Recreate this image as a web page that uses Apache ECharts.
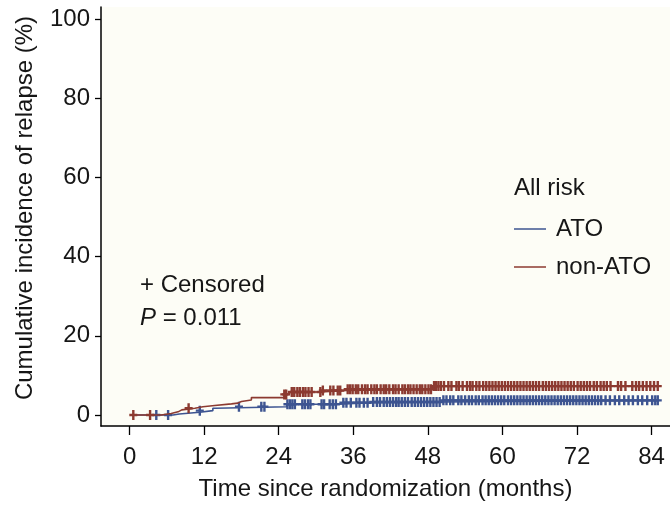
<!DOCTYPE html>
<html>
<head>
<meta charset="utf-8">
<script src="https://cdn.jsdelivr.net/npm/echarts@6/dist/echarts.min.js"></script>
<style>
html,body{margin:0;padding:0;background:#ffffff;}
#chart{width:670px;height:508px;}
</style>
</head>
<body>
<div id="chart"></div>
<script>
// ---- data ----
var xTicks = [0, 12, 24, 36, 48, 60, 72, 84];
var yTicks = [0, 20, 40, 60, 80, 100];
var seriesNames = ['ATO', 'non-ATO'];

// step points [month, cumulative incidence %]
var atoSteps = [[0.3,0],[7.0,0.25],[8.0,0.45],[9.4,0.7],[11.3,1.1],[13.4,1.7],[13.8,2.1],[25.3,2.7],[33.8,3.1],[38.6,3.3],[50.4,3.7],[85.0,3.7]];
var nonAtoSteps = [[0.3,0],[5.1,0.4],[6.7,0.8],[7.8,1.3],[8.4,1.7],[10.5,2.1],[11.8,2.4],[13.7,2.8],[16.4,3.0],[17.4,3.4],[18.0,3.8],[19.6,4.4],[24.9,5.2],[25.7,5.8],[30.8,6.2],[34.9,6.5],[48.8,7.3],[85.5,7.3]];

// censoring times (months)
var atoCensor = [4.3,6.2,11.3,17.6,21.2,21.7,25.4,25.8,26.2,26.6,27.8,28.2,28.7,29.1,30.9,31.3,32.2,32.7,33.2,34.4,34.9,35.6,36.5,37.0,37.7,38.3,39.2,39.8,40.3,40.9,41.4,41.9,42.4,42.9,43.3,43.8,44.3,44.8,45.4,45.9,46.4,46.9,47.4,47.9,48.4,48.9,49.4,49.9,50.5,51.0,51.6,52.1,52.9,53.4,54.0,54.6,55.1,55.7,56.2,56.8,57.3,57.8,58.3,58.8,59.3,59.8,60.3,60.9,61.4,61.9,62.4,62.9,63.4,63.9,64.4,64.9,65.4,65.9,66.4,66.9,67.4,67.9,68.4,68.9,69.4,69.9,70.4,70.9,71.4,71.9,72.4,72.9,73.4,73.9,74.4,74.9,75.4,75.9,76.6,77.3,78.1,78.8,79.6,80.3,81.0,81.8,82.5,83.3,84.1,84.6,85.0];
var nonAtoCensor = [0.6,3.3,9.5,24.9,25.2,26.1,26.5,27.0,27.4,27.9,28.3,28.8,29.3,30.7,31.1,32.3,32.8,33.5,33.9,35.1,35.5,35.9,36.4,36.8,37.4,37.9,38.3,38.9,39.4,39.8,40.4,40.9,41.3,41.8,42.4,42.8,43.3,43.9,44.3,44.8,45.2,45.7,46.2,46.7,47.1,47.6,48.1,48.5,49.0,49.3,49.7,50.1,50.6,51.3,51.8,52.6,53.0,53.6,54.3,54.8,55.2,55.8,56.3,56.9,57.4,57.9,58.4,58.9,59.4,59.9,60.4,60.9,61.4,61.9,62.4,62.9,63.4,63.9,64.4,64.9,65.4,65.9,66.5,67.0,67.5,68.0,68.5,69.0,69.5,70.0,70.5,71.0,71.5,72.1,72.6,73.1,73.6,74.1,74.7,75.2,75.8,76.3,76.8,77.4,78.6,79.1,79.8,80.9,81.5,82.0,82.6,83.2,83.8,84.4,85.0];

// ---- build ----
function valueAt(steps, t){
  var v = steps[0][1];
  for (var i = 0; i < steps.length; i++){ if (steps[i][0] <= t) v = steps[i][1]; }
  return v;
}
function censorPoints(steps, times){ return times.map(function(t){ return [t, valueAt(steps, t)]; }); }

var BLUE = '#3d5491', RED = '#8c3a30', TXT = '#161616';
var FONT = '"Liberation Sans", Arial, Helvetica, sans-serif';
var FS = 24;
var cross = 'path://M3.5,0H6.5V3.8H10V6.2H6.5V10H3.5V6.2H0V3.8H3.5Z';

var chart = echarts.init(document.getElementById('chart'), null, {renderer:'canvas'});
chart.setOption({
  animation: false,
  backgroundColor: '#ffffff',
  textStyle: {fontFamily: FONT},
  grid: {left: 101, right: 0, top: 7, bottom: 82, show: true, backgroundColor: '#fdfdf6', borderWidth: 0},
  xAxis: {
    type: 'value', min: -4.6, max: 86.97,
    name: 'Time since randomization (months)', nameLocation: 'middle', nameGap: 51,
    nameTextStyle: {fontSize: FS, color: TXT, fontFamily: FONT},
    axisLine: {show: true, onZero: false, lineStyle: {color: '#000', width: 1.5}},
    axisTick: {show: true, length: 9, customValues: xTicks, lineStyle: {color: '#000', width: 1.3}},
    axisLabel: {customValues: xTicks, fontSize: FS, color: TXT, margin: 19, fontFamily: FONT},
    splitLine: {show: false}
  },
  yAxis: {
    type: 'value', min: -2.78, max: 103.1,
    axisLine: {show: true, onZero: false, lineStyle: {color: '#000', width: 1.5}},
    axisTick: {show: true, length: 6, customValues: yTicks, lineStyle: {color: '#000', width: 1.3}},
    axisLabel: {customValues: yTicks, fontSize: FS, color: TXT, margin: 11, fontFamily: FONT},
    splitLine: {show: false}
  },
  legend: {
    data: seriesNames, orient: 'vertical', left: 509, top: 212,
    itemWidth: 32, itemHeight: 1.5, itemGap: 14, icon: 'rect',
    textStyle: {fontSize: FS, color: TXT, fontFamily: FONT, padding: [0,0,0,5]},
    selectedMode: false
  },
  graphic: [
    {type: 'text', x: 25, y: 208, rotation: Math.PI/2, style: {text: 'Cumulative incidence of relapse (%)', font: FS + 'px ' + FONT, fill: TXT, textAlign: 'center', verticalAlign: 'middle'}},
    {type: 'text', x: 514, y: 188, style: {text: 'All risk', font: FS + 'px ' + FONT, fill: TXT, verticalAlign: 'middle'}},
    {type: 'text', x: 140, y: 285, style: {text: '+ Censored', font: FS + 'px ' + FONT, fill: TXT, verticalAlign: 'middle'}},
    {type: 'text', x: 140, y: 318, style: {rich: {i: {fontStyle: 'italic', fontSize: FS, fontFamily: FONT, fill: TXT}, n: {fontSize: FS, fontFamily: FONT, fill: TXT}}, text: '{i|P}{n|\u00a0= 0.011}', verticalAlign: 'middle'}}
  ],
  series: [
    {name: 'ATO', type: 'line', step: 'end', data: atoSteps, showSymbol: false, symbol: 'none', lineStyle: {color: BLUE, width: 1.6}, itemStyle: {color: BLUE}, z: 2},
    {name: 'ATO censored', type: 'scatter', data: censorPoints(atoSteps, atoCensor), symbol: cross, symbolSize: [8, 10], itemStyle: {color: BLUE, opacity: 1}, z: 3},
    {name: 'non-ATO', type: 'line', step: 'end', data: nonAtoSteps, showSymbol: false, symbol: 'none', lineStyle: {color: RED, width: 1.6}, itemStyle: {color: RED}, z: 4},
    {name: 'non-ATO censored', type: 'scatter', data: censorPoints(nonAtoSteps, nonAtoCensor), symbol: cross, symbolSize: [8, 10], itemStyle: {color: RED, opacity: 1}, z: 5}
  ]
});
</script>
</body>
</html>
